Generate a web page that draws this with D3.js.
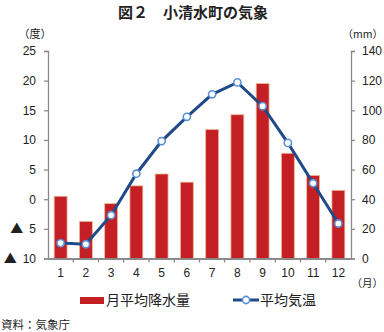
<!DOCTYPE html>
<html><head><meta charset="utf-8">
<script src="https://cdn.jsdelivr.net/npm/d3@7"></script>
<style>
body{margin:0;background:#fff;}
text{font-family:"Liberation Sans","Noto Sans CJK JP",sans-serif;fill:#222;}
.jp{font-family:"Noto Sans CJK JP",sans-serif;}
</style></head>
<body>
<svg id="c" width="384" height="332"></svg>
<script>
const months = ["1","2","3","4","5","6","7","8","9","10","11","12"];
const precip = [42, 25, 37, 49, 57, 51.5, 87, 97, 118, 71, 56, 46];
const temp = [-7.4, -7.6, -2.7, 4.3, 9.8, 13.9, 17.7, 19.7, 15.7, 9.5, 2.7, -4.1];
const tempTicks = [-10, -5, 0, 5, 10, 15, 20, 25];
const precipTicks = [0, 20, 40, 60, 80, 100, 120, 140];
const title = "図２　小清水町の気象";

const svg = d3.select("#c");
const L = 48, R = 351, T = 51, B = 258.5;

const x = d3.scaleBand().domain(months).range([L, R]).paddingInner(0.49).paddingOuter(0.245);
const xb = d3.scaleBand().domain(months).range([L, R]);
const yT = d3.scaleLinear().domain([-10, 25]).range([B, T]);
const yP = d3.scaleLinear().domain([0, 140]).range([B, T]);

svg.append("text").attr("x", 193).attr("y", 18).attr("text-anchor", "middle")
  .attr("class", "jp").style("font-size", "15px").style("font-weight", "bold").text(title);

// bars
svg.append("g").selectAll("rect").data(precip).join("rect")
  .attr("x", (d, i) => x(months[i]))
  .attr("width", x.bandwidth())
  .attr("y", d => yP(d))
  .attr("height", d => yP(0) - yP(d))
  .attr("fill", "#c41f24").attr("stroke", "#eab894").attr("stroke-width", 0.8);

// left axis
const gl = svg.append("g").attr("transform", `translate(${L},0)`)
  .call(d3.axisLeft(yT).tickValues(tempTicks).tickSize(4).tickPadding(8)
    .tickFormat(d => Math.abs(d)));
gl.selectAll("path,line").attr("stroke", "#8a8a8a").attr("stroke-width", 1.3);
gl.selectAll("text").style("font-size", "12px").attr("fill", "#222");
gl.selectAll(".tick").filter(d => d < 0).select("text").each(function(d) {
  const t = d3.select(this);
  const v = t.text();
  t.text(null);
  t.append("tspan").attr("class", "jp").style("font-size", "13px").text("▲");
  t.append("tspan").attr("dx", 6).text(v);
});

// right axis
const gr = svg.append("g").attr("transform", `translate(${R},0)`)
  .call(d3.axisRight(yP).tickValues(precipTicks).tickSize(4).tickPadding(7));
gr.selectAll("path,line").attr("stroke", "#8a8a8a").attr("stroke-width", 1.3);
gr.selectAll("text").style("font-size", "12px").attr("fill", "#222");

// bottom axis
const gb = svg.append("g").attr("transform", `translate(0,${B})`)
  .call(d3.axisBottom(xb).tickSize(0).tickPadding(10));
gb.select("path").attr("stroke", "#8a8a8a").attr("stroke-width", 2);
gb.selectAll("text").style("font-size", "12px").attr("fill", "#222");
svg.append("g").selectAll("line").data(months.slice(1)).join("line")
  .attr("x1", d => xb(d)).attr("x2", d => xb(d))
  .attr("y1", B).attr("y2", B + 4).attr("stroke", "#8a8a8a").attr("stroke-width", 1.3);

// line
const line = d3.line().x((d, i) => xb(months[i]) + xb.bandwidth() / 2).y(d => yT(d));
svg.append("path").datum(temp).attr("d", line).attr("fill", "none")
  .attr("stroke", "#1f4a87").attr("stroke-width", 3);
svg.append("g").selectAll("circle").data(temp).join("circle")
  .attr("cx", (d, i) => xb(months[i]) + xb.bandwidth() / 2).attr("cy", d => yT(d))
  .attr("r", 3.6).attr("fill", "#fff").attr("stroke", "#5b8fd6").attr("stroke-width", 1.6);

// unit labels
svg.append("text").attr("x", 35).attr("y", 38).attr("text-anchor", "middle").attr("class", "jp")
  .style("font-size", "11px").text("（度）");
svg.append("text").attr("x", 383).attr("y", 38).attr("text-anchor", "end").attr("class", "jp")
  .style("font-size", "10.5px").text("（mm）");
svg.append("text").attr("x", 383).attr("y", 287).attr("text-anchor", "end").attr("class", "jp")
  .style("font-size", "10.5px").text("（月）");

// legend
svg.append("rect").attr("x", 80).attr("y", 297).attr("width", 24).attr("height", 7).attr("fill", "#c41f24");
svg.append("text").attr("x", 106).attr("y", 305).attr("class", "jp").style("font-size", "14px").text("月平均降水量");
svg.append("line").attr("x1", 233).attr("x2", 259).attr("y1", 300).attr("y2", 300)
  .attr("stroke", "#1f4a87").attr("stroke-width", 3);
svg.append("circle").attr("cx", 246).attr("cy", 300).attr("r", 3.6).attr("fill", "#fff")
  .attr("stroke", "#5b8fd6").attr("stroke-width", 1.6);
svg.append("text").attr("x", 260).attr("y", 305).attr("class", "jp").style("font-size", "14px").text("平均気温");

svg.append("text").attr("x", 1).attr("y", 329).attr("class", "jp").style("font-size", "11.5px").text("資料：気象庁");
</script>
</body></html>
